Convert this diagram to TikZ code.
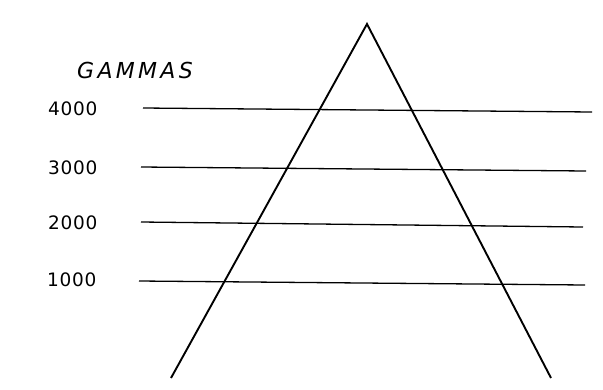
\documentclass[tikz,border=0pt]{standalone}
\usepackage{fontspec}
\setmainfont{DejaVu Sans}
\newfontfamily\gammafont[LetterSpace=15]{DejaVu Sans}
\newfontfamily\numfont[LetterSpace=4]{DejaVu Sans}

\begin{document}
\begin{tikzpicture}[x=1pt,y=-1pt,
  side/.style={line width=1.9pt,line join=miter},
  level/.style={line width=1.3pt},
  num/.style={anchor=west,inner sep=0pt,font=\numfont\fontsize{18.5}{18.5}\selectfont},
  unit/.style={anchor=west,inner sep=0pt,font=\gammafont\itshape\fontsize{22}{22}\selectfont}]
\useasboundingbox (0,0) rectangle (603,389);
\coordinate (T) at (367,24); \coordinate (L) at (171,378); \coordinate (R) at (551,378);
\draw[side] (L)--(T)--(R);
\coordinate (a4) at (143,108); \coordinate (b4) at (592,112);
\coordinate (a3) at (141,167); \coordinate (b3) at (586,171);
\coordinate (a2) at (141,222); \coordinate (b2) at (583,227);
\coordinate (a1) at (139,281); \coordinate (b1) at (585,285);
\draw[level] (a4)--(b4); \draw[level] (a3)--(b3);
\draw[level] (a2)--(b2); \draw[level] (a1)--(b1);
\node[unit] (gam) at (77,70) {GAMMAS};
\node[num] (n4) at (48,109) {4000};
\node[num] (n3) at (48,168) {3000};
\node[num] (n2) at (48,223) {2000};
\node[num] (n1) at (47,280) {1000};
\end{tikzpicture}
\end{document}
